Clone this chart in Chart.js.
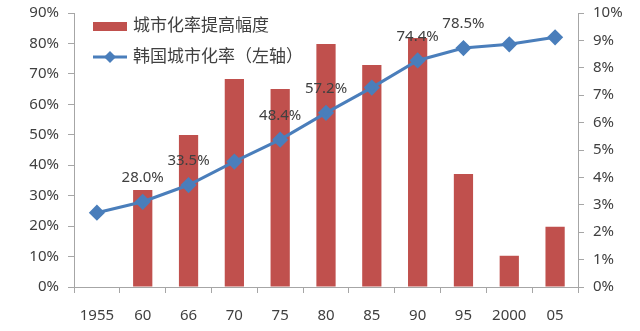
<!DOCTYPE html>
<html>
<head>
<meta charset="utf-8">
<script src="https://cdn.jsdelivr.net/npm/chart.js@4"></script>
<style>
  html, body { margin: 0; padding: 0; background: #fff; }
  #wrap { width: 640px; height: 331px; position: relative; }
</style>
</head>
<body>
<div id="wrap"><canvas id="c"></canvas></div>
<script>
// categories and series
const years = ['1955', '60', '66', '70', '75', '80', '85', '90', '95', '2000', '05'];
const riseAmt = [null, 3.54, 5.55, 7.59, 7.23, 8.87, 8.10, 9.09, 4.12, 1.14, 2.20];   // right axis, %
const urbanRate = [24.4, 28.0, 33.5, 41.2, 48.4, 57.2, 65.5, 74.4, 78.5, 79.7, 82.0];  // left axis, %
const pointLabels = ['', '28.0%', '33.5%', '', '48.4%', '57.2%', '', '74.4%', '78.5%', '', ''];
const barName = '城市化率提高幅度';
const lineName = '韩国城市化率（左轴）';

const COL = { bar: '#C0504D', line: '#4A7EBB', axis: '#A6A6A6', text: '#404040' };
const FONT = "'Noto Sans', 'Noto Sans CJK SC', sans-serif";

Chart.defaults.font.family = FONT;
Chart.defaults.color = COL.text;

// point value labels above the line
const labelPlugin = {
  id: 'pointLabels',
  afterDatasetsDraw(chart) {
    const meta = chart.getDatasetMeta(1);
    const ctx = chart.ctx;
    ctx.save();
    ctx.font = '15px ' + FONT;
    ctx.fillStyle = COL.text;
    ctx.textAlign = 'center';
    ctx.textBaseline = 'middle';
    meta.data.forEach((pt, i) => {
      if (!pointLabels[i]) return;
      ctx.fillText(pointLabels[i], pt.x, pt.y - 24);
    });
    ctx.restore();
  },
};

// legend drawn inside the plot, top-left
const legendPlugin = {
  id: 'innerLegend',
  afterDraw(chart) {
    const ctx = chart.ctx;
    ctx.save();
    ctx.font = '17px ' + FONT;
    ctx.textBaseline = 'middle';
    ctx.fillStyle = COL.bar;
    ctx.fillRect(93, 22, 34, 9);
    ctx.fillStyle = COL.text;
    ctx.fillText(barName, 133, 26);
    ctx.strokeStyle = COL.line; ctx.lineWidth = 3;
    ctx.beginPath(); ctx.moveTo(93, 57); ctx.lineTo(127, 57); ctx.stroke();
    ctx.fillStyle = COL.line;
    ctx.beginPath(); ctx.moveTo(110, 51); ctx.lineTo(116, 57); ctx.lineTo(110, 63); ctx.lineTo(104, 57); ctx.closePath(); ctx.fill();
    ctx.fillStyle = COL.text;
    ctx.fillText(lineName, 133, 57);
    ctx.restore();
  },
};

// fixed axis boxes so the plot area lands where the reference has it
const fitY = w => s => { s.width = w; s.paddingTop = 0; s.paddingBottom = 0; };

new Chart(document.getElementById('c'), {
  data: {
    labels: years,
    datasets: [
      { type: 'bar', label: barName, data: riseAmt, yAxisID: 'yR', backgroundColor: COL.bar,
        barPercentage: 0.42, categoryPercentage: 1, order: 2 },
      { type: 'line', label: lineName, data: urbanRate, yAxisID: 'yL', borderColor: COL.line, borderWidth: 3,
        pointStyle: 'rectRot', pointRadius: 6, pointBackgroundColor: COL.line, pointBorderColor: COL.line,
        tension: 0, order: 1 },
    ],
  },
  options: {
    responsive: true, maintainAspectRatio: false, animation: false,
    layout: { padding: { top: 13, left: 0, right: 0, bottom: 0 } },
    plugins: { legend: { display: false }, tooltip: { enabled: false } },
    scales: {
      x: {
        offset: true,
        grid: { offset: true, drawOnChartArea: false, color: COL.axis, tickLength: 6 },
        border: { color: COL.axis },
        ticks: { font: { size: 15 }, color: COL.text, padding: 14, maxRotation: 0 },
        afterFit(s) { s.height = 44; s.paddingLeft = 0; s.paddingRight = 0; },
      },
      yL: {
        position: 'left', min: 0, max: 90,
        grid: { drawOnChartArea: false, color: COL.axis, tickLength: 6 },
        border: { color: COL.axis },
        ticks: { stepSize: 10, callback: v => v + '%', font: { size: 15 }, color: COL.text, padding: 9 },
        afterFit: fitY(74),
      },
      yR: {
        position: 'right', min: 0, max: 10,
        grid: { drawOnChartArea: false, color: COL.axis, tickLength: 6 },
        border: { color: COL.axis },
        ticks: { stepSize: 1, callback: v => v + '%', font: { size: 15 }, color: COL.text, padding: 9 },
        afterFit: fitY(62),
      },
    },
  },
  plugins: [labelPlugin, legendPlugin],
});
</script>
</body>
</html>
